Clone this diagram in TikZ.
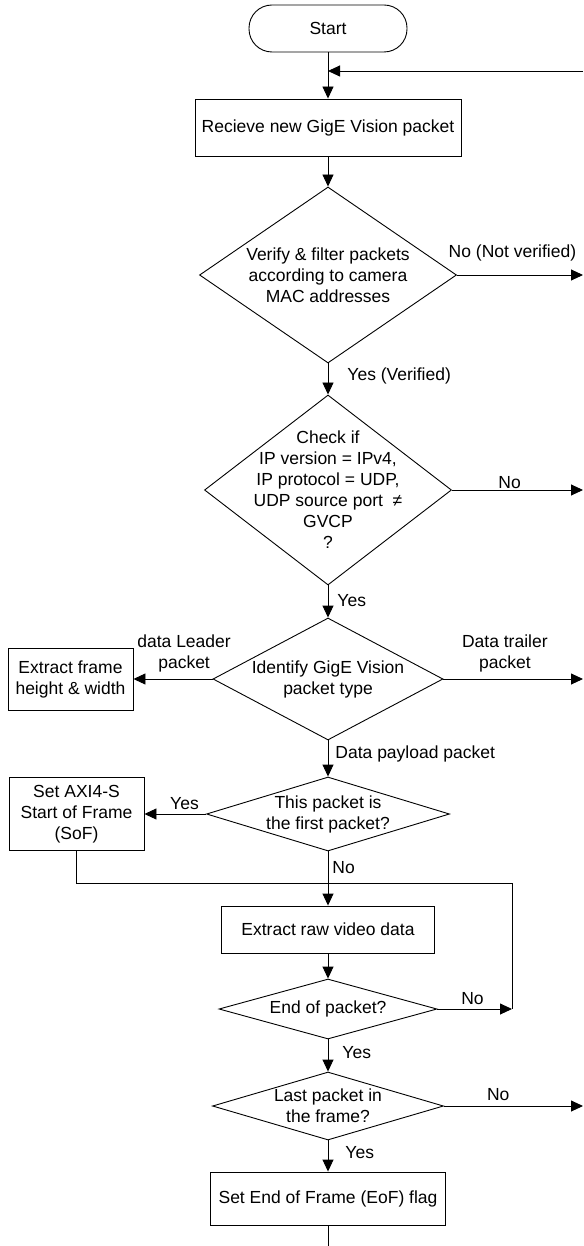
\documentclass[tikz,border=0pt]{standalone}
\usepackage{fontspec}
\setmainfont{Liberation Sans}
\usetikzlibrary{shapes.geometric,arrows.meta}

\begin{document}
\begin{tikzpicture}[x=1pt,y=-1pt,line width=0.9pt,
  font=\fontsize{17.5}{21}\selectfont,
  terminal/.style={draw,rounded corners=23pt,minimum width=158pt,minimum height=47pt,inner sep=0pt},
  process/.style={draw,align=center,inner sep=0pt},
  decision/.style={draw,shape=diamond,align=center,inner sep=-100pt},
  flow/.style={-{Triangle[length=12pt,width=11pt]}},
  lbl/.style={inner sep=0pt,align=center}]
\useasboundingbox (0,0) rectangle (583,1246);

%blocks
\node[terminal] (start) at (328,28.5) {Start};
\node[process,minimum width=266pt,minimum height=57pt] (receive) at (328,127.5) {Recieve new GigE Vision packet};
\node[decision,minimum width=257pt,minimum height=176pt] (verify) at (328,275) {Verify \& filter packets\\according to camera\\MAC addresses};
\node[decision,minimum width=247pt,minimum height=190pt] (check) at (328,490) {Check if\\IP version = IPv4,\\IP protocol = UDP,\\UDP source port ~≠\\GVCP\\?};
\node[decision,minimum width=230pt,minimum height=122pt] (ident) at (328,679) {Identify GigE Vision\\packet type};
\node[process,minimum width=125pt,minimum height=62pt] (leader) at (70.5,679) {Extract frame\\height \& width};
\node[decision,minimum width=243pt,minimum height=74pt] (first) at (328,814) {This packet is\\the first packet?};
\node[process,minimum width=135pt,minimum height=73pt] (sof) at (76.5,814) {Set AXI4-S\\Start of Frame\\(SoF)};
\node[process,minimum width=213pt,minimum height=47pt] (raw) at (328,929.5) {Extract raw video data};
\node[decision,minimum width=218pt,minimum height=60pt] (eop) at (328,1009) {End of packet?};
\node[decision,minimum width=231pt,minimum height=68pt] (last) at (328,1106) {Last packet in\\the frame?};
\node[process,minimum width=235pt,minimum height=53pt] (eof) at (328,1198.5) {Set End of Frame (EoF) flag};

%loose ends
\coordinate (back) at (583,71);
\coordinate (notver) at (583,275);
\coordinate (notudp) at (583,490);
\coordinate (trailer) at (583,679);
\coordinate (nextfr) at (583,1106);
\coordinate (jog) at (512,883);
\coordinate (merge) at (512,1009);
\coordinate (exit) at (328,1246);

\draw[flow] (start) -- (receive);
\draw[flow] (back) -- (start.south |- back);
\draw[flow] (receive) -- (verify);
\draw[flow] (verify.east) -- node[lbl,pos=0.44,anchor=base,yshift=17pt] {No (Not verified)} (notver);
\draw[flow] (verify) -- node[lbl,pos=0.56,anchor=base west,xshift=19pt] {Yes (Verified)} (check);
\draw[flow] (check.east) -- node[lbl,pos=0.44,anchor=base,yshift=2pt] {No} (notudp);
\draw[flow] (check) -- node[lbl,pos=0.64,anchor=base west,xshift=9pt] {Yes} (ident);
\draw[flow] (ident) -- node[lbl,pos=0.36,anchor=south,yshift=6pt] {data Leader\\packet} (leader);
\draw[flow] (ident.east) -- node[lbl,pos=0.44,anchor=south,yshift=6pt] {Data trailer\\packet} (trailer);
\draw[flow] (ident) -- node[lbl,pos=0.51,anchor=base west,xshift=7pt] {Data payload packet} (first);
\draw[flow] (first) -- node[lbl,pos=0.35,anchor=base,yshift=5pt] {Yes} (sof);
\draw[flow] (first) -- node[lbl,pos=0.4,anchor=base west,xshift=4pt] {No} (raw);
\draw (sof) |- (jog) -- (merge);
\draw[flow] (raw) -- (eop);
\draw[flow] (eop) -- node[lbl,pos=0.47,anchor=base,yshift=5pt] {No} (merge);
\draw[flow] (eop) -- node[lbl,pos=0.6,anchor=base west,xshift=14pt] {Yes} (last);
\draw[flow] (last.east) -- node[lbl,pos=0.39,anchor=base,yshift=6pt] {No} (nextfr);
\draw[flow] (last) -- node[lbl,pos=0.59,anchor=base west,xshift=17pt] {Yes} (eof);
\draw (eof) -- (exit);
\end{tikzpicture}
\end{document}
